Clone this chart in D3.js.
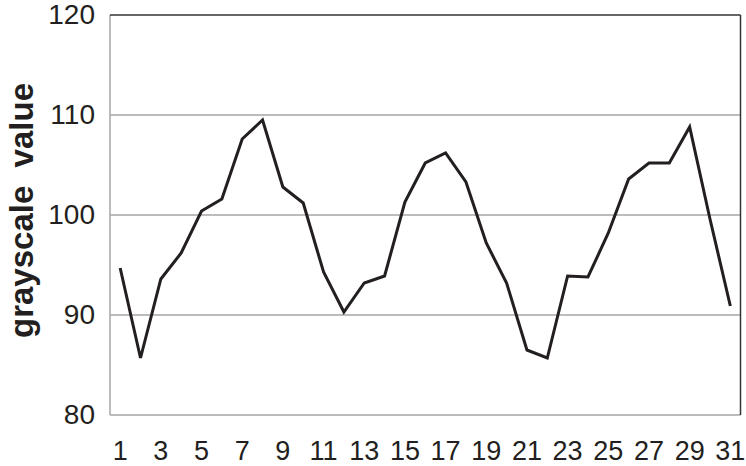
<!DOCTYPE html>
<html>
<head>
<meta charset="utf-8">
<script src="https://cdn.jsdelivr.net/npm/d3@7"></script>
<style>
  body { margin: 0; background: #fff; }
  text { font-family: "Liberation Sans", Arial, sans-serif; }
</style>
</head>
<body>
<div id="chart"></div>
<script>
// Days 1..31 and the grayscale readings
const days = d3.range(1, 32);
const values = [
  94.7, 85.7, 93.6, 96.2, 100.4, 101.6, 107.6, 109.5, 102.8, 101.2,
  94.3, 90.3, 93.2, 93.9, 101.3, 105.2, 106.2, 103.3, 97.2, 93.2,
  86.5, 85.7, 93.9, 93.8, 98.2, 103.6, 105.2, 105.2, 108.8, 99.6,
  90.9
];
const yTicks = [80, 90, 100, 110, 120];
const xTickLabels = days.filter((d) => d % 2 === 1);

const width = 746;
const height = 466;
const margin = { top: 15, right: 5, bottom: 51, left: 110 };

const svg = d3
  .select("#chart")
  .append("svg")
  .attr("width", width)
  .attr("height", height);

const x = d3
  .scaleBand()
  .domain(days)
  .range([margin.left, width - margin.right - 0.5]);

const y = d3
  .scaleLinear()
  .domain([80, 120])
  .range([height - margin.bottom, margin.top]);

// Gridlines
svg
  .append("g")
  .selectAll("line")
  .data(yTicks.filter((t) => t > 80 && t < 120))
  .enter()
  .append("line")
  .attr("x1", margin.left)
  .attr("x2", width - margin.right - 0.5)
  .attr("y1", (d) => y(d))
  .attr("y2", (d) => y(d))
  .style("stroke", "#a6a6a6")
  .style("stroke-width", "1.5px");

// Frame: gray left/bottom, dark top/right
const x0 = margin.left;
const x1 = width - margin.right - 0.5;
const y0 = y(80);
const y1 = y(120);
svg.append("line").attr("x1", x0).attr("x2", x0).attr("y1", y1).attr("y2", y0)
  .style("stroke", "#a6a6a6").style("stroke-width", "1.5px");
svg.append("line").attr("x1", x0).attr("x2", x1).attr("y1", y0).attr("y2", y0)
  .style("stroke", "#a6a6a6").style("stroke-width", "1.5px");
svg.append("line").attr("x1", x0).attr("x2", x1).attr("y1", y1).attr("y2", y1)
  .style("stroke", "#333").style("stroke-width", "1.5px");
svg.append("line").attr("x1", x1).attr("x2", x1).attr("y1", y1).attr("y2", y0)
  .style("stroke", "#333").style("stroke-width", "1.5px");

// Y axis labels
const yAxis = svg
  .append("g")
  .attr("transform", `translate(${margin.left}, 0)`)
  .call(d3.axisLeft(y).tickValues(yTicks).tickSize(0).tickPadding(15));
yAxis.select(".domain").remove();
yAxis
  .selectAll("text")
  .style("font-size", "28px")
  .style("fill", "#231f20");

// X axis labels
const xAxis = svg
  .append("g")
  .attr("transform", `translate(0, ${y0})`)
  .call(d3.axisBottom(x).tickValues(xTickLabels).tickSize(0).tickPadding(26));
xAxis.select(".domain").remove();
xAxis
  .selectAll("text")
  .style("font-size", "27px")
  .style("fill", "#231f20");

// Axis title
svg
  .append("text")
  .attr("transform", "translate(33, 210.5) rotate(-90)")
  .attr("text-anchor", "middle")
  .style("font-size", "33px")
  .style("font-weight", "bold")
  .style("fill", "#231f20")
  .text("grayscale\u00a0\u00a0value");

// Series line
const line = d3
  .line()
  .x((d, i) => x(days[i]) + x.bandwidth() / 2)
  .y((d) => y(d));

svg
  .append("path")
  .datum(values)
  .attr("d", line)
  .style("fill", "none")
  .style("stroke", "#231f20")
  .style("stroke-width", "3px")
  .style("stroke-linejoin", "miter");
</script>
</body>
</html>
